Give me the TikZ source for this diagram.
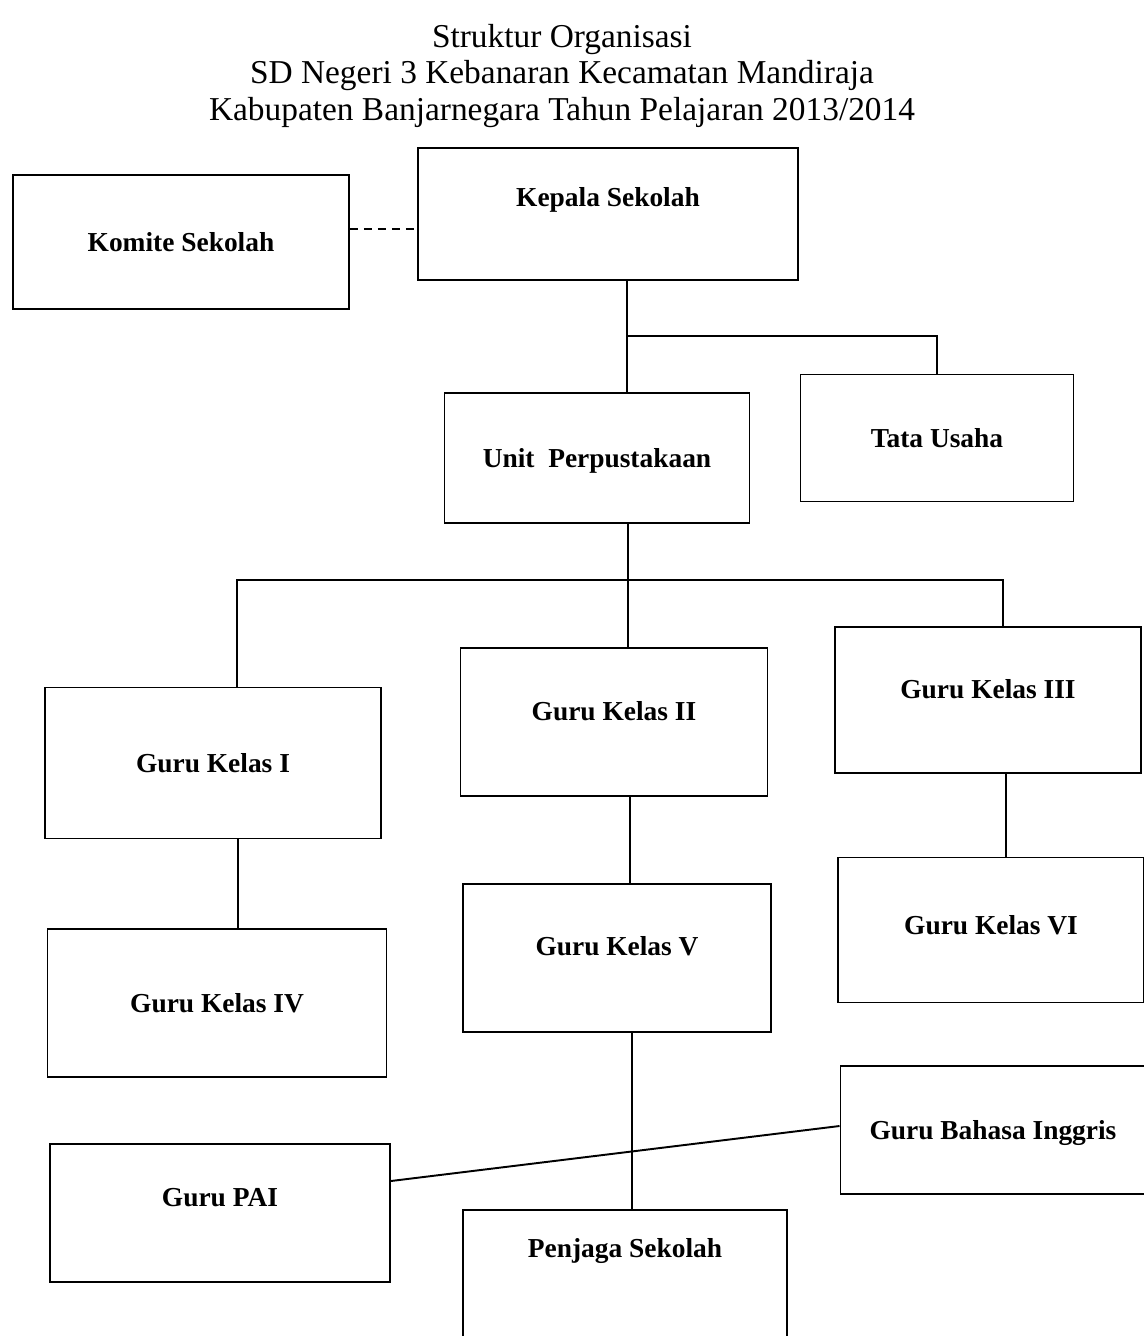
\documentclass[tikz,border=0pt]{standalone}
\usepackage{fontspec}
\setmainfont{Liberation Serif}
\tikzstyle{box}=[rectangle, draw=black, line width=1.1pt, inner sep=0, text height=3.6mm, text depth=0mm, font=\bfseries\fontsize{15.6}{18}\selectfont]
\tikzstyle{lift}=[text depth=#1]
\tikzstyle{line}=[line width=1.1pt]
\tikzstyle{title}=[align=center, font=\fontsize{19}{21}\selectfont]

\begin{document}
\begin{tikzpicture}[x=0.2mm,y=-0.2mm]
\useasboundingbox (0,0) rectangle (1144,1336);

\node[title] (judul) at (562,76) {Struktur Organisasi\\SD Negeri 3 Kebanaran Kecamatan Mandiraja\\Kabupaten Banjarnegara Tahun Pelajaran 2013/2014};

\node[box, minimum width=67.2mm, minimum height=26.8mm] (komite) at (181,242) {Komite Sekolah};
\node[box, lift=6.7mm, minimum width=76mm, minimum height=26.4mm] (kepala) at (608,214) {Kepala Sekolah};
\node[box, minimum width=61mm, minimum height=26mm] (unit) at (597,458) {Unit~~Perpustakaan};
\node[box, minimum width=54.6mm, minimum height=25.4mm] (tata) at (937,438) {Tata Usaha};
\node[box, minimum width=67.2mm, minimum height=30.2mm] (g1) at (213,763) {Guru Kelas I};
\node[box, lift=4.3mm, minimum width=61.4mm, minimum height=29.6mm] (g2) at (614,722) {Guru Kelas II};
\node[box, lift=4.3mm, minimum width=61.2mm, minimum height=29.2mm] (g3) at (988,700) {Guru Kelas III};
\node[box, minimum width=67.8mm, minimum height=29.6mm] (g4) at (217,1003) {Guru Kelas IV};
\node[box, lift=4.7mm, minimum width=61.6mm, minimum height=29.6mm] (g5) at (617,958) {Guru Kelas V};
\node[box, lift=1.9mm, minimum width=61.2mm, minimum height=29mm] (g6) at (991,930) {Guru Kelas VI};
\node[box, minimum width=61mm, minimum height=25.6mm] (gbi) at (993,1130) {Guru Bahasa Inggris};
\node[box, lift=6.3mm, minimum width=68mm, minimum height=27.6mm] (pai) at (220,1213) {Guru PAI};
\node[box, lift=10.7mm, minimum width=64.8mm, minimum height=26mm] (penjaga) at (625,1275) {Penjaga Sekolah};

% garis komando
\coordinate (j1) at (627,336);
\coordinate (j2) at (628,580);
\draw[line, dash pattern=on 1.6mm off 1.2mm] (komite.east |- 0,229) -- (kepala.west |- 0,229);
\draw[line] (kepala.south -| j1) -- (unit.north -| j1);
\draw[line] (j1) -| (tata.north);
\draw[line] (unit.south -| j2) -- (g2.north -| j2);
\draw[line] (g1.north -| 237,0) |- (j2) -| (g3.north -| 1003,0);
\draw[line] (g1.south -| 238,0) -- (g4.north -| 238,0);
\draw[line] (g2.south -| 630,0) -- (g5.north -| 630,0);
\draw[line] (g3.south -| 1006,0) -- (g6.north -| 1006,0);
\draw[line] (g5.south -| 632,0) -- (penjaga.north -| 632,0);
\draw[line] (pai.east |- 0,1181) -- (gbi.west |- 0,1126);
\end{tikzpicture}
\end{document}
